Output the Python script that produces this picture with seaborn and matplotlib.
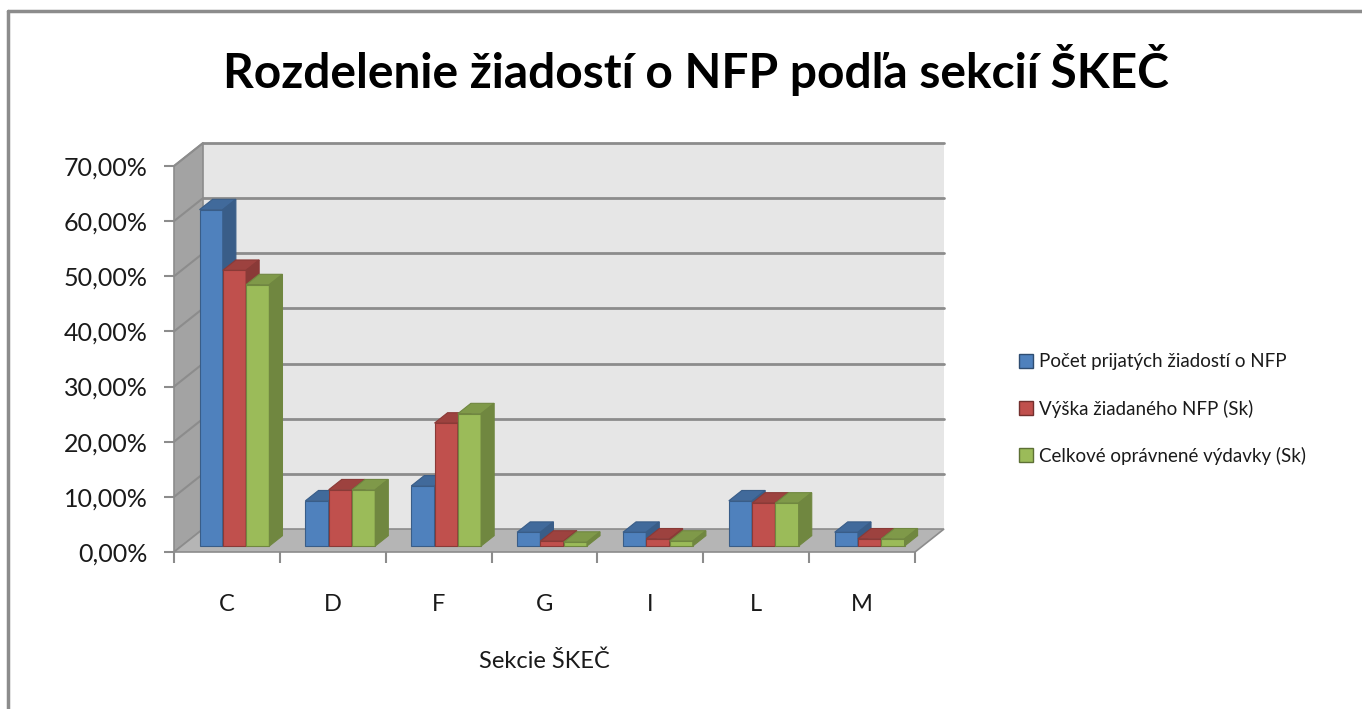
import matplotlib
matplotlib.use('Agg')
import matplotlib.pyplot as plt
import numpy as np
import pandas as pd
import seaborn as sns
from matplotlib.patches import Polygon, Patch
from matplotlib.lines import Line2D
from matplotlib.ticker import FuncFormatter

# data (percent shares per section)
sekcie = ['C', 'D', 'F', 'G', 'I', 'L', 'M']
pocet = [61.0, 8.2, 10.9, 2.5, 2.5, 8.2, 2.5]
vyska = [50.0, 10.2, 22.3, 0.9, 1.3, 7.8, 1.3]
vydavky = [47.4, 10.2, 24.0, 0.7, 0.9, 7.8, 1.3]
serie = ['Počet prijatých žiadostí o NFP', 'Výška žiadaného NFP (Sk)', 'Celkové oprávnené výdavky (Sk)']
farby = ['#4F81BD', '#C0504D', '#9BBB59']

df = pd.DataFrame({'sekcia': sekcie, serie[0]: pocet, serie[1]: vyska, serie[2]: vydavky})
df = df.melt(id_vars='sekcia', var_name='seria', value_name='podiel')

sns.set_style('white')
plt.rcParams['font.family'] = ['Lato', 'DejaVu Sans']
txt_c = '#1A1A1A'

W, H = 1362, 709
fig = plt.figure(figsize=(W / 100, H / 100), dpi=100)
ax = fig.add_axes([174 / W, 1 - 552 / H, 741 / W, 386 / H])

sns.barplot(data=df, x='sekcia', y='podiel', hue='seria', palette=farby, width=0.66,
            saturation=1, legend=False, ax=ax)
bars = sorted(ax.patches, key=lambda p: p.get_x())

ax.set_xlim(-0.5, 6.5)
ax.set_ylim(0, 70)

# fake 3D depth (in data units)
dx, dy = 0.274, 4.17
grid_c = '#8C8C8C'

# walls and floor
ax.add_patch(Polygon([(-0.5 + dx, dy), (6.5 + dx, dy), (6.5 + dx, 70 + dy), (-0.5 + dx, 70 + dy)],
                     closed=True, facecolor='#E6E6E6', edgecolor='none', zorder=0.5, clip_on=False))
ax.add_patch(Polygon([(-0.5, 0), (-0.5 + dx, dy), (-0.5 + dx, 70 + dy), (-0.5, 70)],
                     closed=True, facecolor='#A3A3A3', edgecolor=grid_c, lw=1.2, zorder=0.5, clip_on=False))
ax.add_patch(Polygon([(-0.5, 0), (6.5, 0), (6.5 + dx, dy), (-0.5 + dx, dy)],
                     closed=True, facecolor='#B5B5B5', edgecolor=grid_c, lw=1.2, zorder=0.55, clip_on=False))
for t in range(10, 71, 10):
    ax.plot([-0.5 + dx, 6.5 + dx], [t + dy, t + dy], color=grid_c, lw=2, zorder=0.6, clip_on=False)
    ax.plot([-0.5, -0.5 + dx], [t, t + dy], color=grid_c, lw=1.5, zorder=0.6, clip_on=False)

# give the bars a 3D look
f, d = 0.26, 0.45
for i, p in enumerate(bars):
    base = np.array(p.get_facecolor()[:3])
    side = tuple(base * 0.72)
    top = tuple(base * 0.82)
    x0 = p.get_x() + f * dx
    y0 = f * dy
    w, h = p.get_width(), p.get_height()
    p.set_x(x0)
    p.set_y(y0)
    p.set_edgecolor(side)
    p.set_linewidth(0.8)
    p.set_zorder(2 + i * 0.01)
    p.set_clip_on(False)
    x1, y1 = x0 + w, y0 + h
    ax.add_patch(Polygon([(x0, y1), (x1, y1), (x1 + d * dx, y1 + d * dy), (x0 + d * dx, y1 + d * dy)],
                         closed=True, facecolor=top, edgecolor=side, lw=0.8, zorder=2 + i * 0.01, clip_on=False))
    ax.add_patch(Polygon([(x1, y0), (x1 + d * dx, y0 + d * dy), (x1 + d * dx, y1 + d * dy), (x1, y1)],
                         closed=True, facecolor=side, edgecolor=side, lw=0.8, zorder=2 + i * 0.01, clip_on=False))

for s in ax.spines.values():
    s.set_visible(False)

ax.set_yticks(range(0, 71, 10))
ax.yaxis.set_major_formatter(FuncFormatter(lambda v, _: f'{v:.2f}'.replace('.', ',') + '%'))
ax.tick_params(axis='y', left=True, length=7, width=1.5, color=grid_c, pad=12, labelsize=18, labelcolor=txt_c)
ax.set_xticks([i - 0.5 for i in range(8)], minor=True)
ax.tick_params(axis='x', which='major', bottom=False, length=0, pad=30, labelsize=17, labelcolor=txt_c)
ax.tick_params(axis='x', which='minor', bottom=True, length=8, width=1.5, color=grid_c)
ax.set_xlabel('Sekcie ŠKEČ', fontsize=17, labelpad=26, color=txt_c)
ax.set_ylabel('')

fig.text(0.511, 1 - 70 / H, 'Rozdelenie žiadostí o NFP podľa sekcií ŠKEČ',
         ha='center', va='center', fontsize=34.5, fontweight='bold', color='black')

handles = [Patch(facecolor=c, edgecolor=tuple(np.array(matplotlib.colors.to_rgb(c)) * 0.6), lw=1) for c in farby]
ax.legend(handles, serie, loc='center left', bbox_to_anchor=(1010 / W, 1 - 409 / H),
          bbox_transform=fig.transFigure, frameon=False, fontsize=13.5, handlelength=0.75,
          handleheight=0.75, handletextpad=0.3, labelspacing=1.55, borderpad=0, labelcolor=txt_c)

# outer chart frame
fig.add_artist(Line2D([8 / W, 8 / W], [0, 1 - 11 / H], color=grid_c, lw=2.5))
fig.add_artist(Line2D([8 / W, 1], [1 - 11 / H, 1 - 11 / H], color=grid_c, lw=2.5))

fig.savefig('out.png', dpi=100)
